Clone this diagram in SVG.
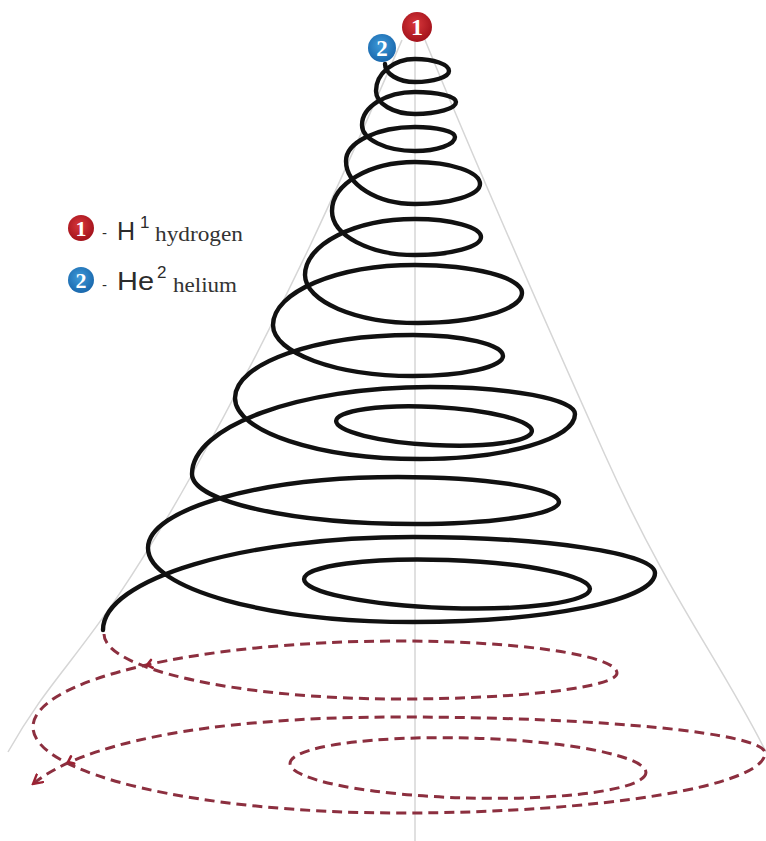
<svg xmlns="http://www.w3.org/2000/svg" width="766" height="841" viewBox="0 0 766 841">
<defs>
<style>
.guide{fill:none;stroke:#d6d6d6;stroke-width:1.5}
.coil{fill:none;stroke:#111;stroke-width:4.4;stroke-linecap:round;stroke-linejoin:round}
.dash{fill:none;stroke:#8c2f3f;stroke-width:3;stroke-dasharray:10 6}
.chev{fill:none;stroke:#9b2233;stroke-width:2.6;stroke-linecap:round;stroke-linejoin:round}
.num{font-family:"Liberation Serif","DejaVu Serif",serif;font-weight:bold;fill:#fff;text-anchor:middle}
.sans{font-family:"Liberation Sans",Arial,sans-serif;fill:#2b2b2b}
.serif{font-family:"Liberation Serif","Times New Roman",serif;fill:#333}
</style>
<radialGradient id="gRed" cx="0.45" cy="0.4" r="0.6">
<stop offset="0" stop-color="#d8383c"/><stop offset="1" stop-color="#a3121b"/>
</radialGradient>
<radialGradient id="gBlue" cx="0.45" cy="0.4" r="0.6">
<stop offset="0" stop-color="#3e9ad9"/><stop offset="1" stop-color="#1a68ad"/>
</radialGradient>
<marker id="arrow" viewBox="0 0 12 12" refX="10" refY="6" markerWidth="12" markerHeight="12" orient="auto" markerUnits="userSpaceOnUse">
<path d="M1,1 L10,6 L1,11" fill="none" stroke="#9b2233" stroke-width="2.4" stroke-linecap="round"/>
</marker>
</defs>
<rect width="766" height="841" fill="#fff"/>

<g id="cone-guides">
<path class="guide" d="M402,40 C350,160 290,300 190,478 S60,660 8,752"/>
<path class="guide" d="M425,40 C470,150 540,310 605,455 S720,660 766,752"/>
<line class="guide" x1="415" y1="38" x2="415" y2="841"/>
</g>

<g id="coil">
<path class="coil" d="M385,64
C385,74 398.5,82 415,82 C433.7,82 449,77 449,71 C449,64.4 433.7,59 415,59 C393.5,59 376,73.4 376,91
C376,103.7 393.5,114 415,114 C437.6,114 456,108.6 456,102 C456,96.5 437.6,92 415,92 C385.9,92 362,106.9 362,125
C362,139.3 385.9,151 415,151 C437,151 455,144.7 455,137 C455,131.5 437,127 415,127 C377,127 346,142.3 346,161
C346,184.7 377,204 415,204 C450.8,204 480,195 480,184 C480,171.9 450.8,162 415,162 C369.4,162 332,184 332,211
C332,235.2 369.4,255 415,255 C451.3,255 481,246.9 481,237 C481,227.1 451.3,219 415,219 C354.5,219 305,244.2 305,275
C305,301.4 355.9,323 418,323 C475.2,323 522,309.5 522,293 C522,277.6 473.9,265 415,265 C336.9,265 273,292 273,325
C273,353 336,376 413,376 C462.5,376 503,367 503,356 C503,344.5 462.5,335 413,335 C315.1,335 235,363.4 235,398
C235,431.6 318.3,459 420,459 C505.3,459 575,438.8 575,414 C575,399.2 509.8,387 430,387 C299.1,387 192,426.2 192,474
C192,501.5 292.4,524 415,524 C494.2,524 559,514.1 559,502 C559,488.3 486.6,477 398,477 C260.5,477 148,509 148,548
C148,588.7 267.3,622 413,622 C546.1,622 655,600 655,573 C655,553.2 546.1,537 413,537 C242.5,537 103,578.9 103,630"/>
<ellipse class="coil" cx="434" cy="426" rx="98" ry="19" transform="rotate(3 434 426)"/>
<ellipse class="coil" cx="447" cy="584" rx="143" ry="24" transform="rotate(2 447 584)"/>
</g>

<g id="coil-dashed">
<path class="dash" marker-end="url(#arrow)" d="M104,634
C104,668.9 237.2,699 400,699 C519.4,699 617,687.3 617,673 C617,655.4 519.4,641 400,641 C198.2,641 33,679.7 33,727
C33,774.3 198.2,813 400,813 C600.8,813 765,786 765,753 C765,733.2 600.8,717 400,717 C200,717 80,745 33,784"/>
<ellipse class="dash" cx="468" cy="768" rx="178" ry="30" transform="rotate(1.5 468 768)"/>
<path class="chev" d="M-5,-4 L0,0 L-5,4" transform="translate(147 665) rotate(167)"/>
<path class="chev" d="M-5,-4 L0,0 L-5,4" transform="translate(68 762) rotate(156)"/>
</g>

<g id="badge-1">
<circle cx="417" cy="27" r="15" fill="url(#gRed)"/>
<text class="num" x="417" y="35" font-size="24">1</text>
</g>
<g id="badge-2">
<circle cx="382" cy="48" r="14" fill="url(#gBlue)"/>
<text class="num" x="382" y="56" font-size="23">2</text>
</g>

<g id="legend-hydrogen">
<circle cx="81" cy="228" r="13" fill="url(#gRed)"/>
<text class="num" x="81" y="236" font-size="22">1</text>
<text class="sans" x="102" y="238" font-size="15">-</text>
<text class="sans" x="117" y="240" font-size="25">H</text>
<text class="sans" x="140" y="228" font-size="17">1</text>
<text class="serif" x="155" y="241" font-size="20" textLength="88" lengthAdjust="spacingAndGlyphs">hydrogen</text>
</g>
<g id="legend-helium">
<circle cx="81" cy="280" r="13" fill="url(#gBlue)"/>
<text class="num" x="81" y="288" font-size="22">2</text>
<text class="sans" x="102" y="290" font-size="15">-</text>
<text class="sans" x="117" y="290" font-size="26" textLength="37" lengthAdjust="spacingAndGlyphs">He</text>
<text class="sans" x="157" y="278" font-size="17">2</text>
<text class="serif" x="173" y="292" font-size="20" textLength="64" lengthAdjust="spacingAndGlyphs">helium</text>
</g>
</svg>
